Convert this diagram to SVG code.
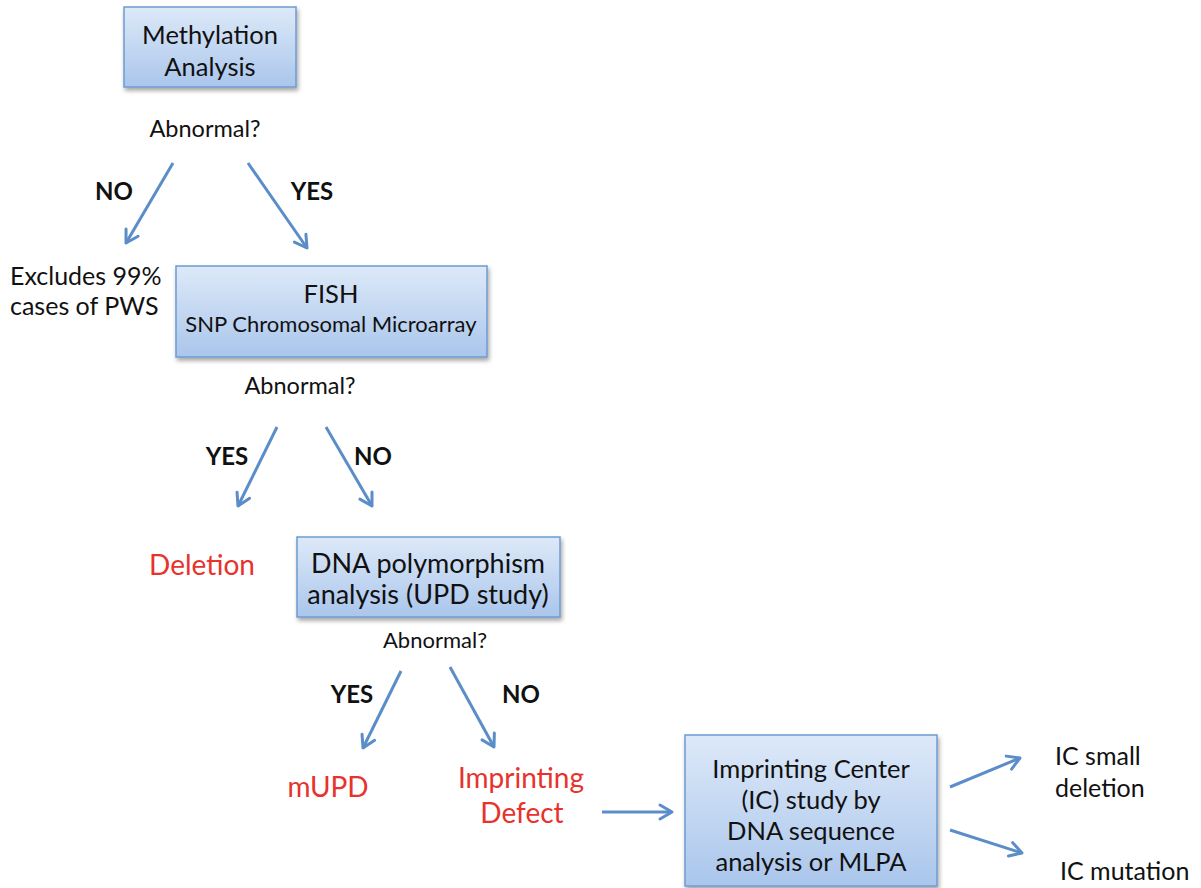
<svg xmlns="http://www.w3.org/2000/svg" width="1201" height="888" viewBox="0 0 1201 888">
<style>
text{font-family:Lato,"Open Sans","Liberation Sans",sans-serif;fill:#111;}
.bx{font-size:25.5px;text-anchor:middle;}
.q{font-size:23.5px;text-anchor:middle;}
.yn{font-size:24px;font-weight:bold;text-anchor:middle;}
.red{font-size:28px;fill:#e8322c;text-anchor:middle;}
.lbl{font-size:25px;}
.box{fill:url(#g);stroke:#6f9ad2;stroke-width:1.5;filter:url(#sh);}
.ar{fill:none;stroke:#5b8dc8;stroke-width:3;marker-end:url(#ah);}
</style>
<defs>
<linearGradient id="g" x1="0" y1="0" x2="0" y2="1">
<stop offset="0" stop-color="#dde9f8"/>
<stop offset="1" stop-color="#aac6ec"/>
</linearGradient>
<filter id="sh" x="-10%" y="-10%" width="130%" height="140%">
<feDropShadow dx="1.5" dy="3" stdDeviation="2" flood-color="#000" flood-opacity="0.35"/>
</filter>
<marker id="ah" markerUnits="userSpaceOnUse" markerWidth="20" markerHeight="20" refX="15" refY="10" orient="auto" viewBox="0 0 20 20">
<path d="M3,3 L15,10 L3,17" fill="none" stroke="#5b8dc8" stroke-width="3" stroke-linecap="round" stroke-linejoin="round"/>
</marker>
</defs>
<rect width="1201" height="888" fill="#fff"/>

<g id="connectors">
<line class="ar" x1="173" y1="163" x2="126" y2="243"/>
<line class="ar" x1="248" y1="163" x2="307" y2="248"/>
<line class="ar" x1="277" y1="427" x2="238" y2="506"/>
<line class="ar" x1="326" y1="427" x2="372" y2="506"/>
<line class="ar" x1="401" y1="671" x2="363" y2="748"/>
<line class="ar" x1="450" y1="667" x2="494" y2="747"/>
<line class="ar" x1="602" y1="812" x2="672" y2="812"/>
<line class="ar" x1="950" y1="787" x2="1020" y2="758"/>
<line class="ar" x1="950" y1="830" x2="1022" y2="853"/>
<text class="yn" x="114" y="200">NO</text>
<text class="yn" x="312" y="200">YES</text>
<text class="yn" x="227" y="465">YES</text>
<text class="yn" x="373" y="465">NO</text>
<text class="yn" x="352" y="703">YES</text>
<text class="yn" x="521" y="703">NO</text>
</g>

<g id="methylation">
<rect class="box" x="124" y="7" width="172" height="80"/>
<text class="bx" x="210" y="44">Methylation</text>
<text class="bx" x="210" y="76">Analysis</text>
</g>
<g id="q1"><text class="q" x="205" y="137">Abnormal?</text></g>
<g id="excludes">
<text class="lbl" x="10" y="285">Excludes 99%</text>
<text class="lbl" x="10" y="315">cases of PWS</text>
</g>
<g id="fish">
<rect class="box" x="176" y="266" width="311" height="91"/>
<text class="bx" x="331" y="303">FISH</text>
<text class="bx" x="331" y="332" style="font-size:22px">SNP Chromosomal Microarray</text>
</g>
<g id="q2"><text class="q" x="300" y="394">Abnormal?</text></g>
<g id="deletion"><text class="red" x="202" y="575">Deletion</text></g>
<g id="dna">
<rect class="box" x="297" y="537" width="263" height="80"/>
<text class="bx" x="428" y="573" style="font-size:27px">DNA polymorphism</text>
<text class="bx" x="428" y="604" style="font-size:27px">analysis (UPD study)</text>
</g>
<g id="q3"><text class="q" x="435" y="648" style="font-size:22px">Abnormal?</text></g>
<g id="mupd"><text class="red" x="328" y="797">mUPD</text></g>
<g id="imprinting-defect">
<text class="red" x="521" y="788">Imprinting</text>
<text class="red" x="522" y="823">Defect</text>
</g>
<g id="ic-study">
<rect class="box" x="685" y="735" width="252" height="151"/>
<text class="bx" x="811" y="778">Imprinting Center</text>
<text class="bx" x="811" y="809">(IC) study by</text>
<text class="bx" x="811" y="840">DNA sequence</text>
<text class="bx" x="811" y="871">analysis or MLPA</text>
</g>
<g id="ic-small">
<text class="lbl" x="1055" y="765">IC small</text>
<text class="lbl" x="1055" y="797">deletion</text>
</g>
<g id="ic-mutation"><text class="lbl" x="1060" y="880">IC mutation</text></g>
</svg>
